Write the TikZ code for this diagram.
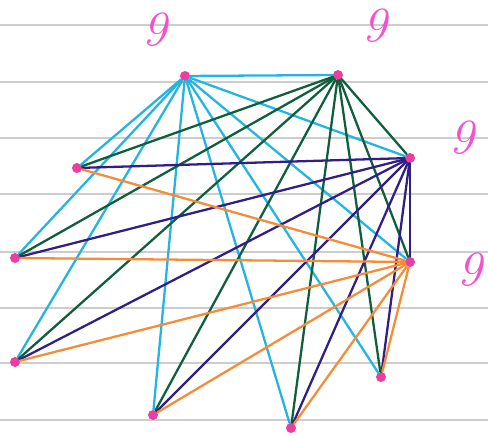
\documentclass[tikz,border=0pt]{standalone}
\usetikzlibrary{positioning}
\definecolor{penpink}{RGB}{236,62,160}
\definecolor{penmagenta}{RGB}{245,80,210}
\definecolor{pencyan}{RGB}{35,180,225}
\definecolor{pengreen}{RGB}{15,95,60}
\definecolor{penpurple}{RGB}{50,30,135}
\definecolor{penorange}{RGB}{245,140,55}
\definecolor{ruleline}{RGB}{205,205,205}

\begin{document}
\begin{tikzpicture}[x=0.02cm,y=-0.02cm,
  vertex/.style={circle,fill=penpink,inner sep=0pt,minimum size=0.2cm},
  degree/.style={text=penmagenta,font=\fontsize{28}{28}\selectfont\itshape},
  pen/.style={line width=1.3pt,line cap=round}]
  \useasboundingbox (0,0) rectangle (488,438);
  % ruled paper
  \foreach \y in {25,82,138,194,252,308,363,420}
    \draw[ruleline,line width=0.7pt] (0,\y) -- (488,\y);

  \node[vertex] (a) at (185,76) {};
  \node[vertex] (b) at (338,75) {};
  \node[vertex] (c) at (410,158) {};
  \node[vertex] (d) at (410,262) {};
  \node[vertex] (e) at (381,377) {};
  \node[vertex] (f) at (291,428) {};
  \node[vertex] (g) at (153,415) {};
  \node[vertex] (h) at (15,362) {};
  \node[vertex] (i) at (15,258) {};
  \node[vertex] (j) at (77,168) {};

  \node[degree] (da) at (155,30) {9};
  \node[degree] (db) at (375,26) {9};
  \node[degree] (dc) at (462,138) {9};
  \node[degree] (dd) at (470,270) {9};

  % edges, one colour per vertex of degree 9
  \foreach \v in {b,c,d,e,f,g,h,i,j}
    \draw[pen,pencyan] (a) -- (\v);
  \foreach \v in {c,d,e,f,g,h,i,j}
    \draw[pen,pengreen] (b) -- (\v);
  \foreach \v in {d,e,f,g,h,i,j}
    \draw[pen,penpurple] (c) -- (\v);
  \foreach \v in {e,f,g,h,i,j}
    \draw[pen,penorange] (d) -- (\v);
\end{tikzpicture}
\end{document}
